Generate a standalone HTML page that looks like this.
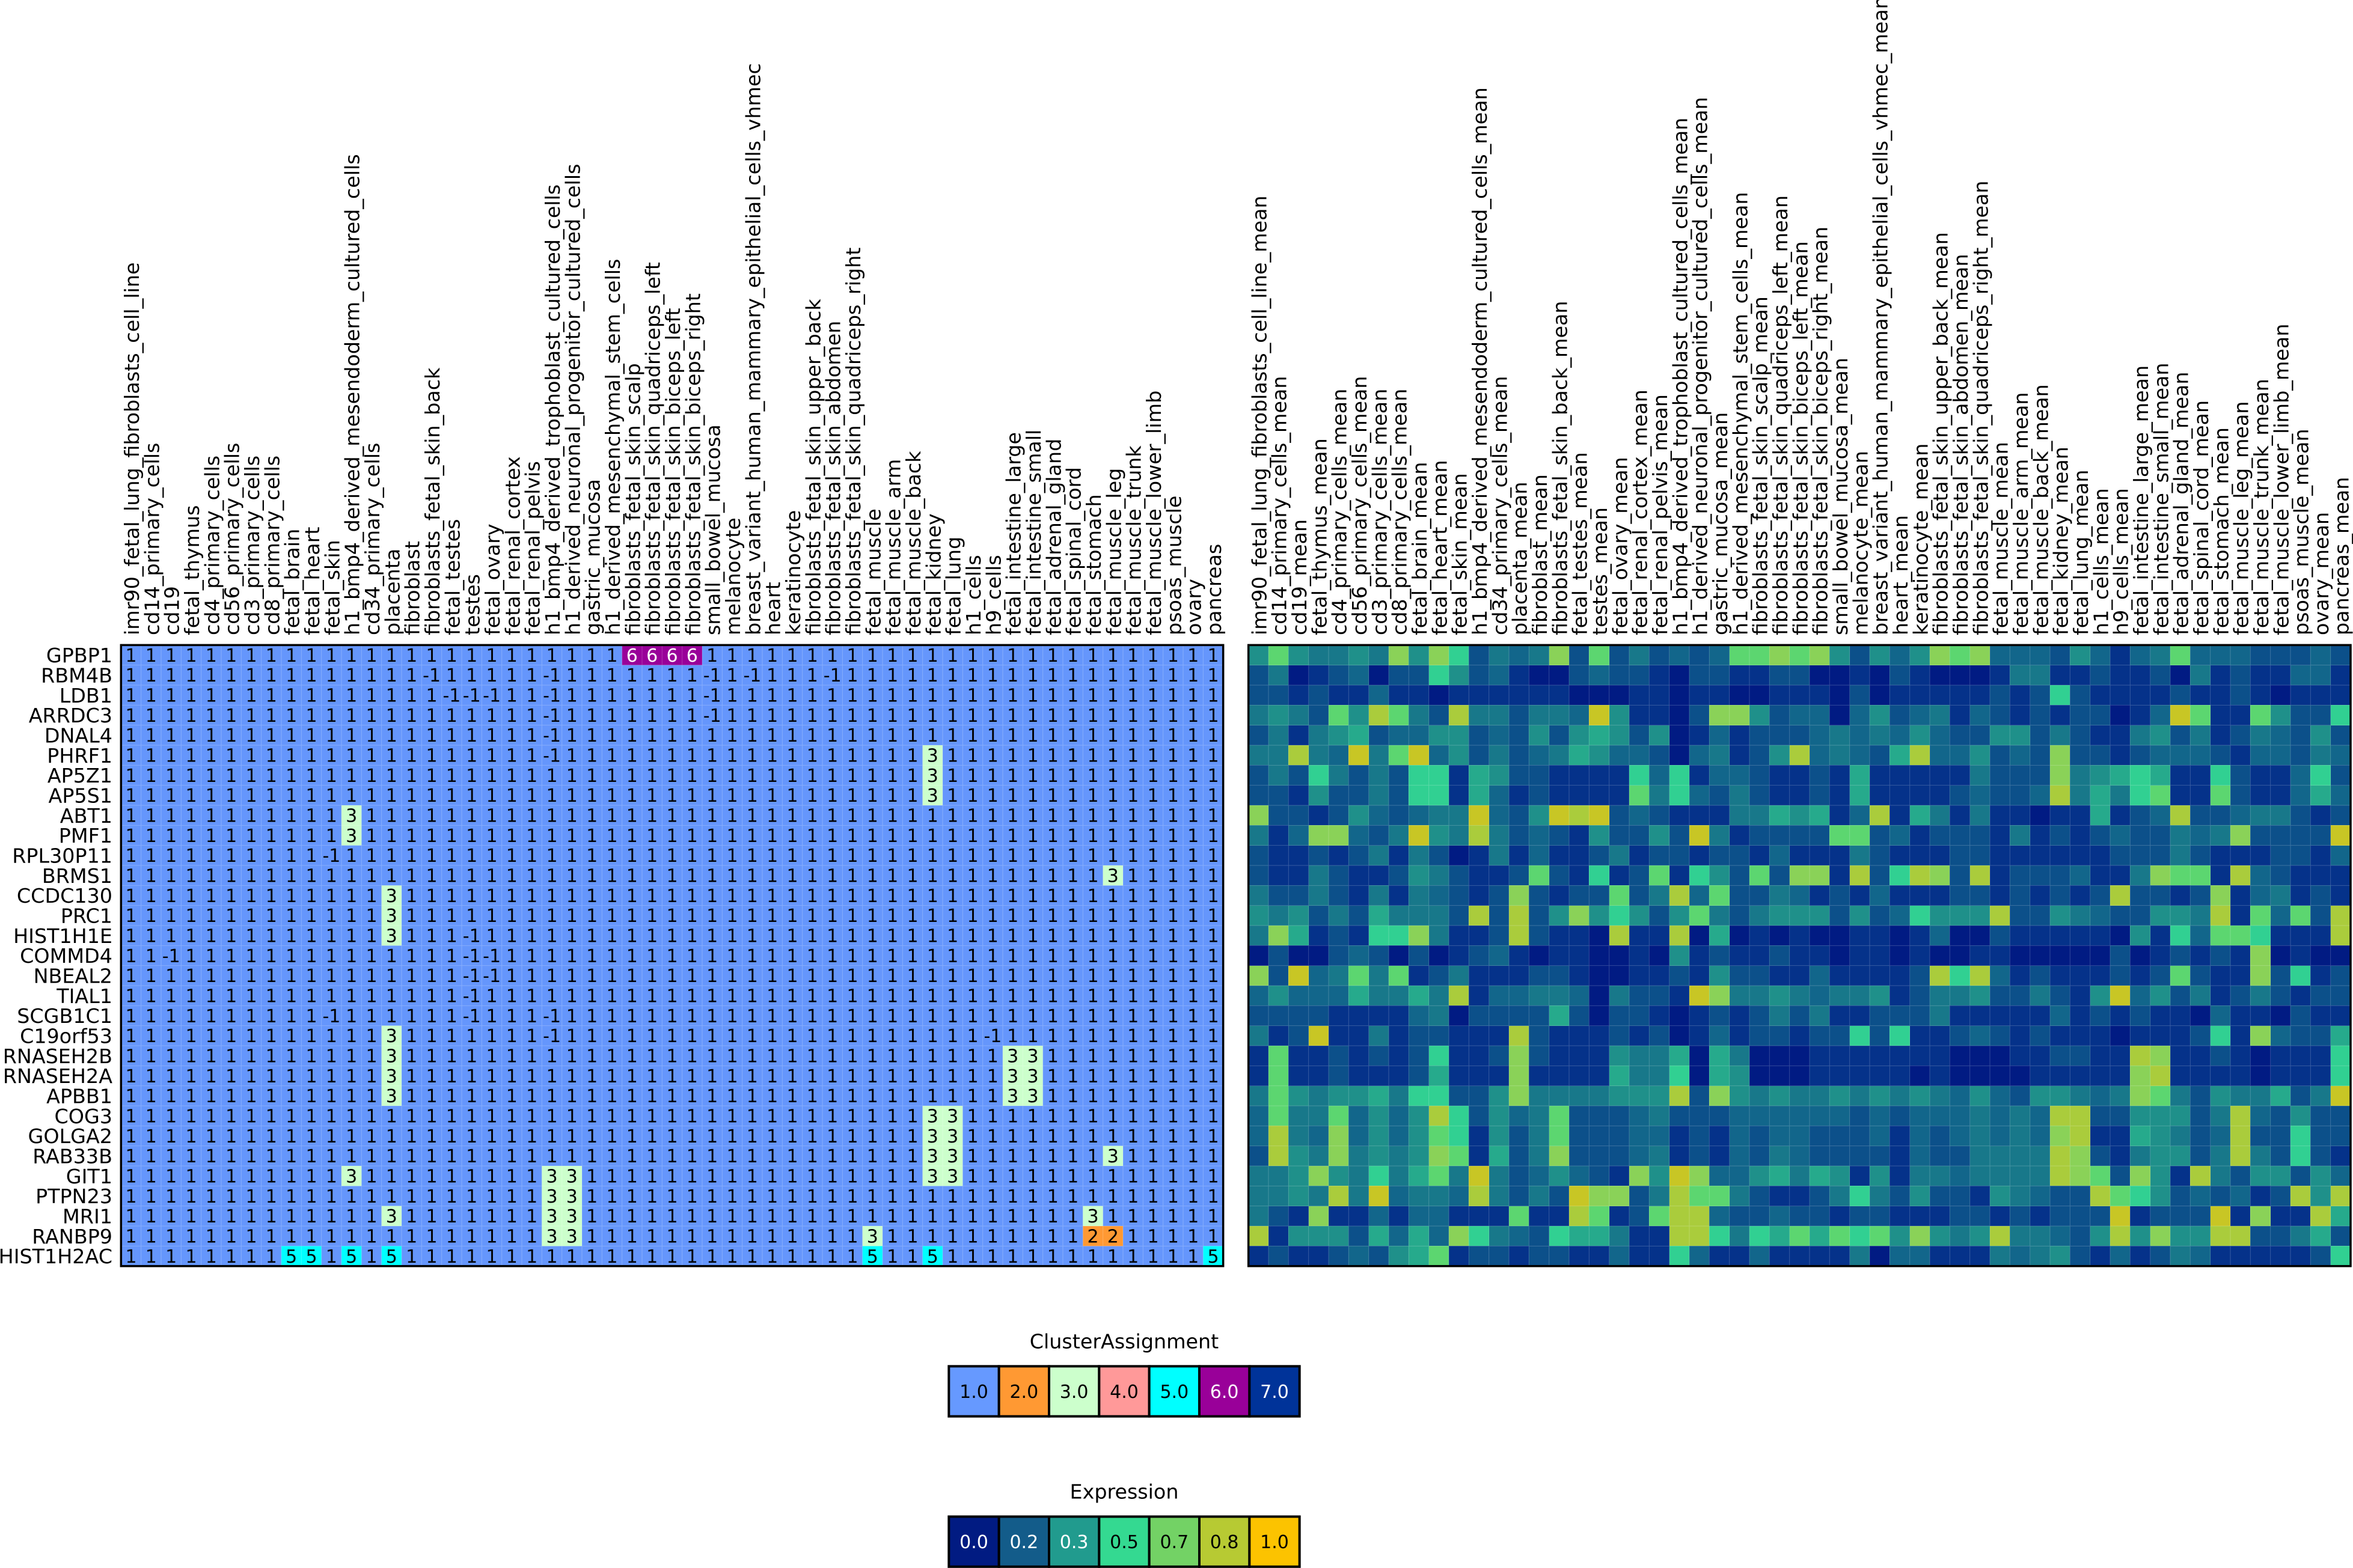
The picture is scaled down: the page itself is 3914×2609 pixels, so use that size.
<!DOCTYPE html>
<html><head><meta charset="utf-8"><style>
html,body{margin:0;padding:0;background:#fff;width:3914px;height:2609px;overflow:hidden}
#R{position:absolute;left:2076.667px;top:1073.333px;width:1833.333px;height:1033.333px;display:grid;grid-template-columns:repeat(55,1fr);grid-template-rows:repeat(31,1fr)}
#R>*{display:block;min-width:0}
#R>a{background:#011b83}#R>b{background:#05328a}#R>c{background:#0c508a}#R>d{background:#12668b}#R>e{background:#18788a}#R>f{background:#1f908a}#R>g{background:#26aa8c}#R>h{background:#31d092}#R>i{background:#5cd670}#R>j{background:#8ad258}#R>k{background:#aacc3c}#R>l{background:#c8c625}
svg{position:absolute;left:0;top:0}
</style></head><body>
<div id="R">
<f></f><i></i><f></f><e></e><e></e><f></f><e></e><j></j><f></f><j></j><h></h><c></c><e></e><d></d><e></e><j></j><c></c><i></i><c></c><e></e><c></c><d></d><c></c><d></d><i></i><i></i><j></j><i></i><j></j><f></f><c></c><f></f><d></d><f></f><j></j><i></i><j></j><d></d><d></d><d></d><c></c><f></f><d></d><b></b><d></d><e></e><i></i><d></d><d></d><d></d><c></c><c></c><c></c><d></d><c></c>
<c></c><e></e><a></a><b></b><c></c><d></d><a></a><c></c><c></c><h></h><f></f><c></c><d></d><b></b><a></a><a></a><c></c><d></d><c></c><c></c><b></b><a></a><c></c><c></c><b></b><b></b><c></c><c></c><a></a><a></a><b></b><a></a><c></c><b></b><a></a><a></a><a></a><b></b><e></e><e></e><b></b><b></b><c></c><b></b><b></b><c></c><a></a><e></e><b></b><c></c><b></b><b></b><d></d><d></d><b></b>
<c></c><c></c><b></b><c></c><b></b><b></b><d></d><b></b><b></b><a></a><b></b><b></b><b></b><b></b><b></b><b></b><a></a><a></a><a></a><b></b><b></b><a></a><b></b><b></b><a></a><a></a><b></b><b></b><b></b><a></a><c></c><a></a><b></b><b></b><b></b><b></b><b></b><c></c><b></b><c></c><h></h><c></c><b></b><b></b><b></b><b></b><c></c><b></b><b></b><c></c><b></b><a></a><b></b><b></b><b></b>
<e></e><f></f><e></e><c></c><i></i><f></f><k></k><i></i><e></e><c></c><k></k><e></e><e></e><c></c><e></e><e></e><d></d><l></l><f></f><b></b><b></b><a></a><c></c><j></j><j></j><f></f><c></c><d></d><d></d><a></a><d></d><f></f><c></c><d></d><e></e><b></b><d></d><c></c><b></b><c></c><b></b><c></c><c></c><a></a><b></b><d></d><l></l><i></i><b></b><b></b><i></i><f></f><c></c><c></c><h></h>
<c></c><e></e><b></b><e></e><f></f><g></g><c></c><d></d><d></d><f></f><f></f><c></c><d></d><c></c><f></f><c></c><f></f><g></g><f></f><c></c><f></f><a></a><b></b><d></d><b></b><c></c><c></c><c></c><d></d><e></e><d></d><e></e><d></d><f></f><d></d><c></c><c></c><f></f><f></f><c></c><e></e><c></c><b></b><b></b><e></e><f></f><c></c><e></e><b></b><c></c><e></e><d></d><c></c><f></f><c></c>
<e></e><e></e><k></k><e></e><d></d><l></l><e></e><i></i><l></l><d></d><f></f><c></c><e></e><c></c><d></d><e></e><g></g><f></f><d></d><d></d><c></c><a></a><d></d><e></e><b></b><c></c><f></f><k></k><d></d><e></e><d></d><c></c><g></g><k></k><d></d><d></d><f></f><c></c><d></d><c></c><j></j><c></c><c></c><b></b><c></c><d></d><d></d><d></d><c></c><b></b><d></d><d></d><c></c><e></e><d></d>
<c></c><e></e><c></c><h></h><e></e><c></c><e></e><c></c><h></h><h></h><b></b><g></g><f></f><c></c><c></c><b></b><b></b><b></b><b></b><h></h><d></d><h></h><b></b><d></d><d></d><c></c><b></b><b></b><c></c><b></b><g></g><b></b><b></b><b></b><b></b><b></b><e></e><c></c><c></c><c></c><j></j><e></e><f></f><g></g><h></h><g></g><b></b><b></b><h></h><c></c><b></b><b></b><d></d><h></h><c></c>
<c></c><c></c><b></b><f></f><c></c><c></c><e></e><c></c><h></h><h></h><b></b><g></g><d></d><b></b><c></c><b></b><b></b><b></b><b></b><i></i><e></e><h></h><d></d><c></c><e></e><c></c><b></b><b></b><c></c><b></b><g></g><b></b><b></b><b></b><b></b><c></c><d></d><c></c><c></c><d></d><k></k><e></e><g></g><e></e><h></h><i></i><b></b><b></b><i></i><c></c><b></b><b></b><d></d><g></g><d></d>
<j></j><c></c><c></c><b></b><c></c><f></f><d></d><c></c><d></d><e></e><e></e><l></l><d></d><c></c><f></f><l></l><k></k><l></l><c></c><d></d><c></c><b></b><b></b><b></b><e></e><e></e><g></g><f></f><g></g><b></b><d></d><k></k><b></b><g></g><e></e><b></b><e></e><b></b><b></b><a></a><b></b><b></b><g></g><b></b><c></c><d></d><k></k><c></c><c></c><d></d><e></e><e></e><c></c><b></b><c></c>
<e></e><b></b><d></d><j></j><j></j><d></d><c></c><e></e><l></l><f></f><e></e><k></k><e></e><c></c><d></d><c></c><b></b><f></f><c></c><c></c><f></f><c></c><l></l><e></e><b></b><c></c><c></c><c></c><c></c><i></i><i></i><c></c><d></d><b></b><c></c><c></c><c></c><b></b><e></e><b></b><c></c><b></b><c></c><d></d><c></c><c></c><e></e><d></d><e></e><j></j><c></c><c></c><c></c><c></c><l></l>
<c></c><b></b><b></b><c></c><b></b><c></c><e></e><b></b><e></e><c></c><a></a><b></b><e></e><b></b><d></d><b></b><b></b><c></c><e></e><b></b><c></c><c></c><b></b><c></c><c></c><b></b><d></d><b></b><b></b><b></b><e></e><c></c><b></b><b></b><b></b><c></c><c></c><b></b><b></b><b></b><b></b><b></b><b></b><c></c><c></c><c></c><e></e><c></c><b></b><b></b><b></b><c></c><c></c><b></b><d></d>
<c></c><b></b><b></b><e></e><c></c><b></b><b></b><c></c><f></f><e></e><c></c><b></b><b></b><c></c><i></i><c></c><b></b><h></h><b></b><c></c><i></i><b></b><h></h><f></f><c></c><i></i><c></c><j></j><j></j><b></b><k></k><c></c><h></h><k></k><j></j><c></c><k></k><b></b><c></c><c></c><c></c><d></d><b></b><b></b><e></e><j></j><i></i><i></i><b></b><k></k><d></d><c></c><b></b><b></b><b></b>
<e></e><c></c><c></c><e></e><c></c><b></b><e></e><b></b><e></e><d></d><c></c><b></b><c></c><j></j><c></c><b></b><c></c><c></c><i></i><c></c><e></e><k></k><d></d><i></i><c></c><c></c><e></e><d></d><b></b><c></c><b></b><d></d><b></b><b></b><b></b><c></c><c></c><b></b><c></c><b></b><c></c><b></b><c></c><k></k><c></c><c></c><b></b><c></c><j></j><b></b><d></d><e></e><b></b><c></c><b></b>
<f></f><e></e><f></f><c></c><e></e><c></c><g></g><e></e><e></e><e></e><c></c><k></k><c></c><k></k><c></c><f></f><j></j><f></f><h></h><f></f><c></c><f></f><i></i><e></e><c></c><e></e><f></f><f></f><f></f><c></c><f></f><c></c><d></d><h></h><f></f><f></f><f></f><k></k><c></c><c></c><f></f><e></e><d></d><c></c><c></c><f></f><f></f><e></e><k></k><b></b><i></i><d></d><i></i><c></c><k></k>
<e></e><j></j><g></g><b></b><c></c><b></b><h></h><h></h><j></j><e></e><b></b><b></b><c></c><k></k><c></c><b></b><b></b><a></a><k></k><b></b><b></b><k></k><a></a><g></g><a></a><b></b><a></a><b></b><a></a><a></a><b></b><b></b><a></a><b></b><d></d><a></a><a></a><c></c><b></b><b></b><b></b><b></b><b></b><a></a><f></f><b></b><h></h><d></d><i></i><i></i><h></h><b></b><b></b><b></b><k></k>
<a></a><c></c><a></a><a></a><c></c><d></d><c></c><a></a><c></c><a></a><b></b><c></c><d></d><b></b><a></a><b></b><b></b><a></a><a></a><b></b><a></a><f></f><b></b><c></c><b></b><b></b><c></c><b></b><b></b><a></a><b></b><b></b><a></a><b></b><a></a><a></a><b></b><b></b><a></a><a></a><a></a><a></a><a></a><c></c><a></a><b></b><c></c><b></b><c></c><b></b><j></j><a></a><b></b><a></a><a></a>
<j></j><c></c><l></l><d></d><e></e><i></i><e></e><i></i><b></b><c></c><e></e><b></b><b></b><b></b><c></c><c></c><b></b><a></a><a></a><b></b><b></b><c></c><b></b><f></f><c></c><c></c><b></b><b></b><d></d><b></b><b></b><b></b><b></b><c></c><k></k><h></h><k></k><d></d><b></b><c></c><b></b><b></b><b></b><c></c><b></b><c></c><i></i><c></c><b></b><b></b><j></j><c></c><h></h><b></b><c></c>
<d></d><f></f><d></d><d></d><d></d><g></g><e></e><e></e><g></g><e></e><k></k><b></b><d></d><d></d><e></e><e></e><d></d><a></a><e></e><c></c><c></c><b></b><l></l><j></j><e></e><e></e><f></f><e></e><d></d><e></e><e></e><f></f><b></b><c></c><e></e><e></e><f></f><c></c><c></c><e></e><c></c><b></b><f></f><l></l><d></d><f></f><c></c><e></e><b></b><c></c><e></e><c></c><b></b><c></c><c></c>
<c></c><c></c><c></c><c></c><b></b><b></b><b></b><b></b><d></d><e></e><a></a><c></c><c></c><c></c><c></c><g></g><c></c><a></a><c></c><c></c><b></b><a></a><b></b><c></c><b></b><c></c><e></e><c></c><e></e><b></b><b></b><c></c><c></c><c></c><e></e><b></b><b></b><b></b><b></b><b></b><d></d><b></b><c></c><b></b><c></c><b></b><b></b><a></a><d></d><b></b><b></b><a></a><c></c><b></b><b></b>
<e></e><b></b><c></c><l></l><b></b><b></b><e></e><b></b><c></c><c></c><b></b><b></b><b></b><k></k><c></c><b></b><b></b><b></b><c></c><b></b><c></c><a></a><b></b><d></d><b></b><c></c><c></c><b></b><c></c><c></c><h></h><c></c><h></h><b></b><b></b><c></c><d></d><c></c><b></b><c></c><b></b><b></b><b></b><a></a><b></b><b></b><b></b><c></c><h></h><b></b><j></j><d></d><c></c><c></c><g></g>
<b></b><i></i><b></b><b></b><c></c><b></b><c></c><b></b><c></c><h></h><b></b><b></b><c></c><j></j><c></c><b></b><b></b><b></b><f></f><e></e><e></e><g></g><a></a><g></g><e></e><a></a><a></a><a></a><b></b><b></b><b></b><b></b><b></b><b></b><b></b><a></a><a></a><a></a><b></b><b></b><c></c><c></c><b></b><b></b><k></k><j></j><b></b><b></b><c></c><b></b><a></a><b></b><b></b><b></b><h></h>
<b></b><i></i><b></b><b></b><c></c><b></b><b></b><b></b><c></c><g></g><b></b><b></b><b></b><j></j><b></b><b></b><b></b><b></b><g></g><e></e><e></e><h></h><a></a><g></g><f></f><a></a><a></a><a></a><b></b><b></b><b></b><b></b><b></b><a></a><b></b><a></a><a></a><a></a><a></a><b></b><b></b><b></b><b></b><b></b><j></j><k></k><b></b><b></b><b></b><b></b><a></a><b></b><b></b><b></b><h></h>
<e></e><i></i><f></f><e></e><f></f><f></f><g></g><e></e><h></h><h></h><c></c><c></c><f></f><j></j><e></e><e></e><e></e><e></e><f></f><f></f><f></f><k></k><c></c><j></j><f></f><e></e><f></f><e></e><e></e><f></f><e></e><f></f><e></e><f></f><e></e><d></d><f></f><d></d><c></c><f></f><f></f><e></e><d></d><e></e><j></j><i></i><e></e><c></c><f></f><e></e><e></e><g></g><c></c><e></e><l></l>
<d></d><i></i><e></e><e></e><i></i><d></d><f></f><d></d><f></f><k></k><h></h><c></c><f></f><d></d><e></e><i></i><c></c><c></c><c></c><d></d><e></e><c></c><c></c><c></c><d></d><d></d><d></d><d></d><d></d><d></d><c></c><d></d><c></c><d></d><d></d><d></d><e></e><d></d><e></e><d></d><k></k><k></k><c></c><c></c><f></f><f></f><f></f><c></c><e></e><k></k><d></d><c></c><f></f><c></c><c></c>
<d></d><k></k><e></e><d></d><j></j><d></d><f></f><d></d><f></f><i></i><h></h><b></b><f></f><c></c><e></e><i></i><c></c><c></c><c></c><d></d><d></d><b></b><c></c><b></b><d></d><c></c><d></d><d></d><c></c><c></c><c></c><d></d><b></b><d></d><c></c><d></d><e></e><d></d><e></e><d></d><j></j><k></k><b></b><b></b><g></g><f></f><e></e><c></c><d></d><k></k><c></c><c></c><h></h><c></c><c></c>
<c></c><k></k><f></f><e></e><j></j><e></e><f></f><e></e><f></f><j></j><i></i><b></b><g></g><c></c><e></e><j></j><c></c><c></c><c></c><d></d><e></e><b></b><c></c><b></b><d></d><c></c><e></e><d></d><c></c><c></c><c></c><c></c><b></b><d></d><c></c><c></c><e></e><e></e><e></e><e></e><k></k><j></j><c></c><b></b><e></e><f></f><f></f><c></c><e></e><k></k><e></e><c></c><h></h><c></c><b></b>
<e></e><e></e><f></f><j></j><f></f><e></e><h></h><e></e><g></g><i></i><e></e><l></l><e></e><c></c><d></d><f></f><d></d><c></c><b></b><j></j><f></f><l></l><j></j><d></d><d></d><f></f><g></g><e></e><g></g><f></f><b></b><f></f><b></b><e></e><e></e><d></d><e></e><e></e><e></e><e></e><k></k><j></j><i></i><c></c><j></j><f></f><b></b><k></k><e></e><c></c><f></f><f></f><c></c><f></f><d></d>
<e></e><e></e><f></f><e></e><k></k><e></e><l></l><d></d><e></e><e></e><d></d><k></k><e></e><c></c><e></e><c></c><l></l><j></j><j></j><c></c><e></e><k></k><i></i><i></i><e></e><c></c><b></b><b></b><c></c><e></e><h></h><e></e><c></c><f></f><c></c><c></c><b></b><f></f><e></e><d></d><c></c><c></c><k></k><i></i><h></h><f></f><c></c><d></d><c></c><d></d><b></b><c></c><k></k><f></f><k></k>
<e></e><c></c><b></b><j></j><b></b><b></b><d></d><b></b><d></d><d></d><b></b><b></b><b></b><i></i><b></b><b></b><k></k><i></i><b></b><c></c><i></i><k></k><k></k><d></d><c></c><c></c><d></d><c></c><c></c><b></b><c></c><c></c><b></b><b></b><b></b><c></c><c></c><b></b><c></c><b></b><c></c><c></c><c></c><l></l><b></b><c></c><c></c><c></c><l></l><b></b><j></j><b></b><b></b><k></k><g></g>
<k></k><b></b><f></f><f></f><f></f><c></c><g></g><d></d><g></g><d></d><j></j><h></h><e></e><d></d><c></c><h></h><g></g><g></g><e></e><b></b><b></b><k></k><k></k><h></h><e></e><h></h><g></g><i></i><g></g><i></i><h></h><i></i><f></f><j></j><f></f><e></e><f></f><k></k><e></e><e></e><d></d><c></c><f></f><k></k><f></f><j></j><f></f><f></f><k></k><k></k><c></c><c></c><e></e><g></g><c></c>
<b></b><c></c><b></b><b></b><c></c><d></d><c></c><f></f><g></g><i></i><b></b><c></c><c></c><b></b><c></c><c></c><b></b><b></b><d></d><b></b><b></b><h></h><d></d><b></b><b></b><d></d><b></b><b></b><b></b><b></b><e></e><a></a><d></d><d></d><b></b><b></b><b></b><e></e><d></d><e></e><f></f><c></c><b></b><d></d><b></b><c></c><e></e><d></d><b></b><b></b><b></b><b></b><b></b><c></c><h></h>
</div>
<svg width="3914" height="2609" viewBox="0 0 3914 2609" font-family="'DejaVu Sans','Liberation Sans',sans-serif">
<rect x="201.333" y="1073.333" width="1833.333" height="1033.333" fill="#6596fc"/>
<g transform="translate(201.333 1073.333) scale(33.33333)">
<rect x="25" y="0" width="4" height="1" fill="#990099"/>
<g fill="#ccffcc">
<rect x="40" y="5" width="1" height="3"/><rect x="11" y="8" width="1" height="2"/><rect x="49" y="11" width="1" height="1"/><rect x="13" y="12" width="1" height="3"/><rect x="13" y="19" width="1" height="4"/><rect x="44" y="20" width="2" height="3"/><rect x="40" y="23" width="2" height="4"/><rect x="49" y="25" width="1" height="1"/><rect x="11" y="26" width="1" height="1"/><rect x="21" y="26" width="2" height="4"/><rect x="13" y="28" width="1" height="1"/><rect x="48" y="28" width="1" height="1"/><rect x="37" y="29" width="1" height="1"/>
</g>
<rect x="48" y="29" width="2" height="1" fill="#ff9933"/>
<g fill="#00ffff"><rect x="8" y="30" width="2" height="1"/><rect x="11" y="30" width="1" height="1"/><rect x="13" y="30" width="1" height="1"/><rect x="37" y="30" width="1" height="1"/><rect x="40" y="30" width="1" height="1"/><rect x="54" y="30" width="1" height="1"/></g>
<path d="M0 1H55M0 2H55M0 3H55M0 4H55M0 5H55M0 6H55M0 7H55M0 8H55M0 9H55M0 10H55M0 11H55M0 12H55M0 13H55M0 14H55M0 15H55M0 16H55M0 17H55M0 18H55M0 19H55M0 20H55M0 21H55M0 22H55M0 23H55M0 24H55M0 25H55M0 26H55M0 27H55M0 28H55M0 29H55M0 30H55M1 0V31M2 0V31M3 0V31M4 0V31M5 0V31M6 0V31M7 0V31M8 0V31M9 0V31M10 0V31M11 0V31M12 0V31M13 0V31M14 0V31M15 0V31M16 0V31M17 0V31M18 0V31M19 0V31M20 0V31M21 0V31M22 0V31M23 0V31M24 0V31M25 0V31M26 0V31M27 0V31M28 0V31M29 0V31M30 0V31M31 0V31M32 0V31M33 0V31M34 0V31M35 0V31M36 0V31M37 0V31M38 0V31M39 0V31M40 0V31M41 0V31M42 0V31M43 0V31M44 0V31M45 0V31M46 0V31M47 0V31M48 0V31M49 0V31M50 0V31M51 0V31M52 0V31M53 0V31M54 0V31" stroke="#ffffff" stroke-opacity="0.22" stroke-width="1" vector-effect="non-scaling-stroke" fill="none"/>
</g>
<g transform="translate(2076.667 1073.333) scale(33.33333)">
<path d="M0 1H55M0 2H55M0 3H55M0 4H55M0 5H55M0 6H55M0 7H55M0 8H55M0 9H55M0 10H55M0 11H55M0 12H55M0 13H55M0 14H55M0 15H55M0 16H55M0 17H55M0 18H55M0 19H55M0 20H55M0 21H55M0 22H55M0 23H55M0 24H55M0 25H55M0 26H55M0 27H55M0 28H55M0 29H55M0 30H55M1 0V31M2 0V31M3 0V31M4 0V31M5 0V31M6 0V31M7 0V31M8 0V31M9 0V31M10 0V31M11 0V31M12 0V31M13 0V31M14 0V31M15 0V31M16 0V31M17 0V31M18 0V31M19 0V31M20 0V31M21 0V31M22 0V31M23 0V31M24 0V31M25 0V31M26 0V31M27 0V31M28 0V31M29 0V31M30 0V31M31 0V31M32 0V31M33 0V31M34 0V31M35 0V31M36 0V31M37 0V31M38 0V31M39 0V31M40 0V31M41 0V31M42 0V31M43 0V31M44 0V31M45 0V31M46 0V31M47 0V31M48 0V31M49 0V31M50 0V31M51 0V31M52 0V31M53 0V31M54 0V31" stroke="#ffffff" stroke-opacity="0.2" stroke-width="1" vector-effect="non-scaling-stroke" fill="none"/>
</g>
<rect x="201.333" y="1073.333" width="1833.333" height="1033.333" fill="none" stroke="#000" stroke-width="3.5"/>
<rect x="2076.667" y="1073.333" width="1833.333" height="1033.333" fill="none" stroke="#000" stroke-width="3.5"/>

<g transform="translate(208.46 1100.9) scale(.333333)" font-size="90" fill="#000">
<text y="0" x="0 100 200 300 400 500 600 700 800 900 1000 1100 1200 1300 1400 1500 1600 1700 1800 1900 2000 2100 2200 2300 2400 2500 2600 2700 2800 2900 3000 3100 3200 3300 3400 3500 3600 3700 3800 3900 4000 4100 4200 4300 4400 4500 4600 4700 4800 4900 5000 5100 5200 5300 5400">1111111111111111111111111&#160;&#160;&#160;&#160;11111111111111111111111111</text>
<text y="100" x="0 100 200 300 400 500 600 700 800 900 1000 1100 1200 1300 1400 1500 1600 1700 1800 1900 2000 2100 2200 2300 2400 2500 2600 2700 2800 2900 3000 3100 3200 3300 3400 3500 3600 3700 3800 3900 4000 4100 4200 4300 4400 4500 4600 4700 4800 4900 5000 5100 5200 5300 5400">111111111111111&#160;11111&#160;1111111&#160;1&#160;111&#160;1111111111111111111</text>
<text y="200" x="0 100 200 300 400 500 600 700 800 900 1000 1100 1200 1300 1400 1500 1600 1700 1800 1900 2000 2100 2200 2300 2400 2500 2600 2700 2800 2900 3000 3100 3200 3300 3400 3500 3600 3700 3800 3900 4000 4100 4200 4300 4400 4500 4600 4700 4800 4900 5000 5100 5200 5300 5400">1111111111111111&#160;&#160;&#160;11&#160;1111111&#160;1111111111111111111111111</text>
<text y="300" x="0 100 200 300 400 500 600 700 800 900 1000 1100 1200 1300 1400 1500 1600 1700 1800 1900 2000 2100 2200 2300 2400 2500 2600 2700 2800 2900 3000 3100 3200 3300 3400 3500 3600 3700 3800 3900 4000 4100 4200 4300 4400 4500 4600 4700 4800 4900 5000 5100 5200 5300 5400">111111111111111111111&#160;1111111&#160;1111111111111111111111111</text>
<text y="400" x="0 100 200 300 400 500 600 700 800 900 1000 1100 1200 1300 1400 1500 1600 1700 1800 1900 2000 2100 2200 2300 2400 2500 2600 2700 2800 2900 3000 3100 3200 3300 3400 3500 3600 3700 3800 3900 4000 4100 4200 4300 4400 4500 4600 4700 4800 4900 5000 5100 5200 5300 5400">111111111111111111111&#160;111111111111111111111111111111111</text>
<text y="500" x="0 100 200 300 400 500 600 700 800 900 1000 1100 1200 1300 1400 1500 1600 1700 1800 1900 2000 2100 2200 2300 2400 2500 2600 2700 2800 2900 3000 3100 3200 3300 3400 3500 3600 3700 3800 3900 4000 4100 4200 4300 4400 4500 4600 4700 4800 4900 5000 5100 5200 5300 5400">111111111111111111111&#160;111111111111111111&#160;11111111111111</text>
<text y="600" x="0 100 200 300 400 500 600 700 800 900 1000 1100 1200 1300 1400 1500 1600 1700 1800 1900 2000 2100 2200 2300 2400 2500 2600 2700 2800 2900 3000 3100 3200 3300 3400 3500 3600 3700 3800 3900 4000 4100 4200 4300 4400 4500 4600 4700 4800 4900 5000 5100 5200 5300 5400">1111111111111111111111111111111111111111&#160;11111111111111</text>
<text y="700" x="0 100 200 300 400 500 600 700 800 900 1000 1100 1200 1300 1400 1500 1600 1700 1800 1900 2000 2100 2200 2300 2400 2500 2600 2700 2800 2900 3000 3100 3200 3300 3400 3500 3600 3700 3800 3900 4000 4100 4200 4300 4400 4500 4600 4700 4800 4900 5000 5100 5200 5300 5400">1111111111111111111111111111111111111111&#160;11111111111111</text>
<text y="800" x="0 100 200 300 400 500 600 700 800 900 1000 1100 1200 1300 1400 1500 1600 1700 1800 1900 2000 2100 2200 2300 2400 2500 2600 2700 2800 2900 3000 3100 3200 3300 3400 3500 3600 3700 3800 3900 4000 4100 4200 4300 4400 4500 4600 4700 4800 4900 5000 5100 5200 5300 5400">11111111111&#160;1111111111111111111111111111111111111111111</text>
<text y="900" x="0 100 200 300 400 500 600 700 800 900 1000 1100 1200 1300 1400 1500 1600 1700 1800 1900 2000 2100 2200 2300 2400 2500 2600 2700 2800 2900 3000 3100 3200 3300 3400 3500 3600 3700 3800 3900 4000 4100 4200 4300 4400 4500 4600 4700 4800 4900 5000 5100 5200 5300 5400">11111111111&#160;1111111111111111111111111111111111111111111</text>
<text y="1000" x="0 100 200 300 400 500 600 700 800 900 1000 1100 1200 1300 1400 1500 1600 1700 1800 1900 2000 2100 2200 2300 2400 2500 2600 2700 2800 2900 3000 3100 3200 3300 3400 3500 3600 3700 3800 3900 4000 4100 4200 4300 4400 4500 4600 4700 4800 4900 5000 5100 5200 5300 5400">1111111111&#160;11111111111111111111111111111111111111111111</text>
<text y="1100" x="0 100 200 300 400 500 600 700 800 900 1000 1100 1200 1300 1400 1500 1600 1700 1800 1900 2000 2100 2200 2300 2400 2500 2600 2700 2800 2900 3000 3100 3200 3300 3400 3500 3600 3700 3800 3900 4000 4100 4200 4300 4400 4500 4600 4700 4800 4900 5000 5100 5200 5300 5400">1111111111111111111111111111111111111111111111111&#160;11111</text>
<text y="1200" x="0 100 200 300 400 500 600 700 800 900 1000 1100 1200 1300 1400 1500 1600 1700 1800 1900 2000 2100 2200 2300 2400 2500 2600 2700 2800 2900 3000 3100 3200 3300 3400 3500 3600 3700 3800 3900 4000 4100 4200 4300 4400 4500 4600 4700 4800 4900 5000 5100 5200 5300 5400">1111111111111&#160;11111111111111111111111111111111111111111</text>
<text y="1300" x="0 100 200 300 400 500 600 700 800 900 1000 1100 1200 1300 1400 1500 1600 1700 1800 1900 2000 2100 2200 2300 2400 2500 2600 2700 2800 2900 3000 3100 3200 3300 3400 3500 3600 3700 3800 3900 4000 4100 4200 4300 4400 4500 4600 4700 4800 4900 5000 5100 5200 5300 5400">1111111111111&#160;11111111111111111111111111111111111111111</text>
<text y="1400" x="0 100 200 300 400 500 600 700 800 900 1000 1100 1200 1300 1400 1500 1600 1700 1800 1900 2000 2100 2200 2300 2400 2500 2600 2700 2800 2900 3000 3100 3200 3300 3400 3500 3600 3700 3800 3900 4000 4100 4200 4300 4400 4500 4600 4700 4800 4900 5000 5100 5200 5300 5400">1111111111111&#160;111&#160;1111111111111111111111111111111111111</text>
<text y="1500" x="0 100 200 300 400 500 600 700 800 900 1000 1100 1200 1300 1400 1500 1600 1700 1800 1900 2000 2100 2200 2300 2400 2500 2600 2700 2800 2900 3000 3100 3200 3300 3400 3500 3600 3700 3800 3900 4000 4100 4200 4300 4400 4500 4600 4700 4800 4900 5000 5100 5200 5300 5400">11&#160;11111111111111&#160;&#160;111111111111111111111111111111111111</text>
<text y="1600" x="0 100 200 300 400 500 600 700 800 900 1000 1100 1200 1300 1400 1500 1600 1700 1800 1900 2000 2100 2200 2300 2400 2500 2600 2700 2800 2900 3000 3100 3200 3300 3400 3500 3600 3700 3800 3900 4000 4100 4200 4300 4400 4500 4600 4700 4800 4900 5000 5100 5200 5300 5400">11111111111111111&#160;&#160;111111111111111111111111111111111111</text>
<text y="1700" x="0 100 200 300 400 500 600 700 800 900 1000 1100 1200 1300 1400 1500 1600 1700 1800 1900 2000 2100 2200 2300 2400 2500 2600 2700 2800 2900 3000 3100 3200 3300 3400 3500 3600 3700 3800 3900 4000 4100 4200 4300 4400 4500 4600 4700 4800 4900 5000 5100 5200 5300 5400">11111111111111111&#160;1111111111111111111111111111111111111</text>
<text y="1800" x="0 100 200 300 400 500 600 700 800 900 1000 1100 1200 1300 1400 1500 1600 1700 1800 1900 2000 2100 2200 2300 2400 2500 2600 2700 2800 2900 3000 3100 3200 3300 3400 3500 3600 3700 3800 3900 4000 4100 4200 4300 4400 4500 4600 4700 4800 4900 5000 5100 5200 5300 5400">1111111111&#160;111111&#160;111&#160;111111111111111111111111111111111</text>
<text y="1900" x="0 100 200 300 400 500 600 700 800 900 1000 1100 1200 1300 1400 1500 1600 1700 1800 1900 2000 2100 2200 2300 2400 2500 2600 2700 2800 2900 3000 3100 3200 3300 3400 3500 3600 3700 3800 3900 4000 4100 4200 4300 4400 4500 4600 4700 4800 4900 5000 5100 5200 5300 5400">1111111111111&#160;1111111&#160;111111111111111111111&#160;11111111111</text>
<text y="2000" x="0 100 200 300 400 500 600 700 800 900 1000 1100 1200 1300 1400 1500 1600 1700 1800 1900 2000 2100 2200 2300 2400 2500 2600 2700 2800 2900 3000 3100 3200 3300 3400 3500 3600 3700 3800 3900 4000 4100 4200 4300 4400 4500 4600 4700 4800 4900 5000 5100 5200 5300 5400">1111111111111&#160;111111111111111111111111111111&#160;&#160;111111111</text>
<text y="2100" x="0 100 200 300 400 500 600 700 800 900 1000 1100 1200 1300 1400 1500 1600 1700 1800 1900 2000 2100 2200 2300 2400 2500 2600 2700 2800 2900 3000 3100 3200 3300 3400 3500 3600 3700 3800 3900 4000 4100 4200 4300 4400 4500 4600 4700 4800 4900 5000 5100 5200 5300 5400">1111111111111&#160;111111111111111111111111111111&#160;&#160;111111111</text>
<text y="2200" x="0 100 200 300 400 500 600 700 800 900 1000 1100 1200 1300 1400 1500 1600 1700 1800 1900 2000 2100 2200 2300 2400 2500 2600 2700 2800 2900 3000 3100 3200 3300 3400 3500 3600 3700 3800 3900 4000 4100 4200 4300 4400 4500 4600 4700 4800 4900 5000 5100 5200 5300 5400">1111111111111&#160;111111111111111111111111111111&#160;&#160;111111111</text>
<text y="2300" x="0 100 200 300 400 500 600 700 800 900 1000 1100 1200 1300 1400 1500 1600 1700 1800 1900 2000 2100 2200 2300 2400 2500 2600 2700 2800 2900 3000 3100 3200 3300 3400 3500 3600 3700 3800 3900 4000 4100 4200 4300 4400 4500 4600 4700 4800 4900 5000 5100 5200 5300 5400">1111111111111111111111111111111111111111&#160;&#160;1111111111111</text>
<text y="2400" x="0 100 200 300 400 500 600 700 800 900 1000 1100 1200 1300 1400 1500 1600 1700 1800 1900 2000 2100 2200 2300 2400 2500 2600 2700 2800 2900 3000 3100 3200 3300 3400 3500 3600 3700 3800 3900 4000 4100 4200 4300 4400 4500 4600 4700 4800 4900 5000 5100 5200 5300 5400">1111111111111111111111111111111111111111&#160;&#160;1111111111111</text>
<text y="2500" x="0 100 200 300 400 500 600 700 800 900 1000 1100 1200 1300 1400 1500 1600 1700 1800 1900 2000 2100 2200 2300 2400 2500 2600 2700 2800 2900 3000 3100 3200 3300 3400 3500 3600 3700 3800 3900 4000 4100 4200 4300 4400 4500 4600 4700 4800 4900 5000 5100 5200 5300 5400">1111111111111111111111111111111111111111&#160;&#160;1111111&#160;11111</text>
<text y="2600" x="0 100 200 300 400 500 600 700 800 900 1000 1100 1200 1300 1400 1500 1600 1700 1800 1900 2000 2100 2200 2300 2400 2500 2600 2700 2800 2900 3000 3100 3200 3300 3400 3500 3600 3700 3800 3900 4000 4100 4200 4300 4400 4500 4600 4700 4800 4900 5000 5100 5200 5300 5400">11111111111&#160;111111111&#160;&#160;11111111111111111&#160;&#160;1111111111111</text>
<text y="2700" x="0 100 200 300 400 500 600 700 800 900 1000 1100 1200 1300 1400 1500 1600 1700 1800 1900 2000 2100 2200 2300 2400 2500 2600 2700 2800 2900 3000 3100 3200 3300 3400 3500 3600 3700 3800 3900 4000 4100 4200 4300 4400 4500 4600 4700 4800 4900 5000 5100 5200 5300 5400">111111111111111111111&#160;&#160;11111111111111111111111111111111</text>
<text y="2800" x="0 100 200 300 400 500 600 700 800 900 1000 1100 1200 1300 1400 1500 1600 1700 1800 1900 2000 2100 2200 2300 2400 2500 2600 2700 2800 2900 3000 3100 3200 3300 3400 3500 3600 3700 3800 3900 4000 4100 4200 4300 4400 4500 4600 4700 4800 4900 5000 5100 5200 5300 5400">1111111111111&#160;1111111&#160;&#160;1111111111111111111111111&#160;111111</text>
<text y="2900" x="0 100 200 300 400 500 600 700 800 900 1000 1100 1200 1300 1400 1500 1600 1700 1800 1900 2000 2100 2200 2300 2400 2500 2600 2700 2800 2900 3000 3100 3200 3300 3400 3500 3600 3700 3800 3900 4000 4100 4200 4300 4400 4500 4600 4700 4800 4900 5000 5100 5200 5300 5400">111111111111111111111&#160;&#160;11111111111111&#160;1111111111&#160;&#160;11111</text>
<text y="3000" x="0 100 200 300 400 500 600 700 800 900 1000 1100 1200 1300 1400 1500 1600 1700 1800 1900 2000 2100 2200 2300 2400 2500 2600 2700 2800 2900 3000 3100 3200 3300 3400 3500 3600 3700 3800 3900 4000 4100 4200 4300 4400 4500 4600 4700 4800 4900 5000 5100 5200 5300 5400">11111111&#160;&#160;1&#160;1&#160;11111111111111111111111&#160;11&#160;1111111111111&#160;</text>
<text x="4000 4000 4000 1100 1100 4900 1300 1300 1300 1300 1300 4400 4500 1300 4400 4500 1300 4400 4500 4000 4100 4000 4100 4000 4100 4900 1100 2100 2200 4000 4100 2100 2200 1300 2100 2200 4800 2100 2200 3700" y="500 600 700 800 900 1100 1200 1300 1400 1900 2000 2000 2000 2100 2100 2100 2200 2200 2200 2300 2300 2400 2400 2500 2500 2500 2600 2600 2600 2600 2600 2700 2700 2800 2800 2800 2800 2900 2900 2900">3333333333333333333333333333333333333333</text>
<text x="4800 4900" y="2900 2900">22</text>
<text x="800 900 1100 1300 3700 4000 5400" y="3000 3000 3000 3000 3000 3000 3000">5555555</text>
<text x="2500 2600 2700 2800" y="0 0 0 0" fill="#fff">6666</text>
<text y="100" x="1484 1516.5 2084 2116.5 2884 2916.5 3084 3116.5 3484 3516.5">-1-1-1-1-1</text>
<text y="200" x="1584 1616.5 1684 1716.5 1784 1816.5 2084 2116.5 2884 2916.5">-1-1-1-1-1</text>
<text y="300" x="2084 2116.5 2884 2916.5">-1-1</text>
<text y="400" x="2084 2116.5">-1</text>
<text y="500" x="2084 2116.5">-1</text>
<text y="1000" x="984 1016.5">-1</text>
<text y="1400" x="1684 1716.5">-1</text>
<text y="1500" x="184 216.5 1684 1716.5 1784 1816.5">-1-1-1</text>
<text y="1600" x="1684 1716.5 1784 1816.5">-1-1</text>
<text y="1700" x="1684 1716.5">-1</text>
<text y="1800" x="984 1016.5 1684 1716.5 2084 2116.5">-1-1-1</text>
<text y="1900" x="2084 2116.5 4284 4316.5">-1-1</text>
</g>

<g transform="translate(187 1102.1) scale(.333333)" font-size="100" text-anchor="end" fill="#000">
<text y="0">GPBP1</text><text y="100">RBM4B</text><text y="200">LDB1</text><text y="300">ARRDC3</text><text y="400">DNAL4</text><text y="500">PHRF1</text><text y="600">AP5Z1</text><text y="700">AP5S1</text><text y="800">ABT1</text><text y="900">PMF1</text><text y="1000">RPL30P11</text><text y="1100">BRMS1</text><text y="1200">CCDC130</text><text y="1300">PRC1</text><text y="1400">HIST1H1E</text><text y="1500">COMMD4</text><text y="1600">NBEAL2</text><text y="1700">TIAL1</text><text y="1800">SCGB1C1</text><text y="1900">C19orf53</text><text y="2000">RNASEH2B</text><text y="2100">RNASEH2A</text><text y="2200">APBB1</text><text y="2300">COG3</text><text y="2400">GOLGA2</text><text y="2500">RAB33B</text><text y="2600">GIT1</text><text y="2700">PTPN23</text><text y="2800">MRI1</text><text y="2900">RANBP9</text><text y="3000">HIST1H2AC</text>
</g>

<g transform="translate(231 1057) rotate(-90) scale(.333333)" font-size="100" fill="#000">
<text y="0">imr90_fetal_lung_fibroblasts_cell_line</text>
<text y="100">cd14_primary_cells</text>
<text y="200">cd19</text>
<text y="300">fetal_thymus</text>
<text y="400">cd4_primary_cells</text>
<text y="500">cd56_primary_cells</text>
<text y="600">cd3_primary_cells</text>
<text y="700">cd8_primary_cells</text>
<text y="800">fetal_brain</text>
<text y="900">fetal_heart</text>
<text y="1000">fetal_skin</text>
<text y="1100">h1_bmp4_derived_mesendoderm_cultured_cells</text>
<text y="1200">cd34_primary_cells</text>
<text y="1300">placenta</text>
<text y="1400">fibroblast</text>
<text y="1500">fibroblasts_fetal_skin_back</text>
<text y="1600">fetal_testes</text>
<text y="1700">testes</text>
<text y="1800">fetal_ovary</text>
<text y="1900">fetal_renal_cortex</text>
<text y="2000">fetal_renal_pelvis</text>
<text y="2100">h1_bmp4_derived_trophoblast_cultured_cells</text>
<text y="2200">h1_derived_neuronal_progenitor_cultured_cells</text>
<text y="2300">gastric_mucosa</text>
<text y="2400">h1_derived_mesenchymal_stem_cells</text>
<text y="2500">fibroblasts_fetal_skin_scalp</text>
<text y="2600">fibroblasts_fetal_skin_quadriceps_left</text>
<text y="2700">fibroblasts_fetal_skin_biceps_left</text>
<text y="2800">fibroblasts_fetal_skin_biceps_right</text>
<text y="2900">small_bowel_mucosa</text>
<text y="3000">melanocyte</text>
<text y="3100">breast_variant_human_mammary_epithelial_cells_vhmec</text>
<text y="3200">heart</text>
<text y="3300">keratinocyte</text>
<text y="3400">fibroblasts_fetal_skin_upper_back</text>
<text y="3500">fibroblasts_fetal_skin_abdomen</text>
<text y="3600">fibroblasts_fetal_skin_quadriceps_right</text>
<text y="3700">fetal_muscle</text>
<text y="3800">fetal_muscle_arm</text>
<text y="3900">fetal_muscle_back</text>
<text y="4000">fetal_kidney</text>
<text y="4100">fetal_lung</text>
<text y="4200">h1_cells</text>
<text y="4300">h9_cells</text>
<text y="4400">fetal_intestine_large</text>
<text y="4500">fetal_intestine_small</text>
<text y="4600">fetal_adrenal_gland</text>
<text y="4700">fetal_spinal_cord</text>
<text y="4800">fetal_stomach</text>
<text y="4900">fetal_muscle_leg</text>
<text y="5000">fetal_muscle_trunk</text>
<text y="5100">fetal_muscle_lower_limb</text>
<text y="5200">psoas_muscle</text>
<text y="5300">ovary</text>
<text y="5400">pancreas</text>
</g>

<g transform="translate(2106.333 1057) rotate(-90) scale(.333333)" font-size="100" fill="#000">
<text y="0">imr90_fetal_lung_fibroblasts_cell_line_mean</text>
<text y="100">cd14_primary_cells_mean</text>
<text y="200">cd19_mean</text>
<text y="300">fetal_thymus_mean</text>
<text y="400">cd4_primary_cells_mean</text>
<text y="500">cd56_primary_cells_mean</text>
<text y="600">cd3_primary_cells_mean</text>
<text y="700">cd8_primary_cells_mean</text>
<text y="800">fetal_brain_mean</text>
<text y="900">fetal_heart_mean</text>
<text y="1000">fetal_skin_mean</text>
<text y="1100">h1_bmp4_derived_mesendoderm_cultured_cells_mean</text>
<text y="1200">cd34_primary_cells_mean</text>
<text y="1300">placenta_mean</text>
<text y="1400">fibroblast_mean</text>
<text y="1500">fibroblasts_fetal_skin_back_mean</text>
<text y="1600">fetal_testes_mean</text>
<text y="1700">testes_mean</text>
<text y="1800">fetal_ovary_mean</text>
<text y="1900">fetal_renal_cortex_mean</text>
<text y="2000">fetal_renal_pelvis_mean</text>
<text y="2100">h1_bmp4_derived_trophoblast_cultured_cells_mean</text>
<text y="2200">h1_derived_neuronal_progenitor_cultured_cells_mean</text>
<text y="2300">gastric_mucosa_mean</text>
<text y="2400">h1_derived_mesenchymal_stem_cells_mean</text>
<text y="2500">fibroblasts_fetal_skin_scalp_mean</text>
<text y="2600">fibroblasts_fetal_skin_quadriceps_left_mean</text>
<text y="2700">fibroblasts_fetal_skin_biceps_left_mean</text>
<text y="2800">fibroblasts_fetal_skin_biceps_right_mean</text>
<text y="2900">small_bowel_mucosa_mean</text>
<text y="3000">melanocyte_mean</text>
<text y="3100">breast_variant_human_mammary_epithelial_cells_vhmec_mean</text>
<text y="3200">heart_mean</text>
<text y="3300">keratinocyte_mean</text>
<text y="3400">fibroblasts_fetal_skin_upper_back_mean</text>
<text y="3500">fibroblasts_fetal_skin_abdomen_mean</text>
<text y="3600">fibroblasts_fetal_skin_quadriceps_right_mean</text>
<text y="3700">fetal_muscle_mean</text>
<text y="3800">fetal_muscle_arm_mean</text>
<text y="3900">fetal_muscle_back_mean</text>
<text y="4000">fetal_kidney_mean</text>
<text y="4100">fetal_lung_mean</text>
<text y="4200">h1_cells_mean</text>
<text y="4300">h9_cells_mean</text>
<text y="4400">fetal_intestine_large_mean</text>
<text y="4500">fetal_intestine_small_mean</text>
<text y="4600">fetal_adrenal_gland_mean</text>
<text y="4700">fetal_spinal_cord_mean</text>
<text y="4800">fetal_stomach_mean</text>
<text y="4900">fetal_muscle_leg_mean</text>
<text y="5000">fetal_muscle_trunk_mean</text>
<text y="5100">fetal_muscle_lower_limb_mean</text>
<text y="5200">psoas_muscle_mean</text>
<text y="5300">ovary_mean</text>
<text y="5400">pancreas_mean</text>
</g>

<text x="1870" y="2243.3" font-size="33.33" text-anchor="middle" fill="#000">ClusterAssignment</text>
<g stroke="#000" stroke-width="4">
<rect x="1578.33" y="2273.33" width="83.33" height="83.33" fill="#6699ff"/>
<rect x="1661.67" y="2273.33" width="83.33" height="83.33" fill="#ff9933"/>
<rect x="1745" y="2273.33" width="83.33" height="83.33" fill="#ccffcc"/>
<rect x="1828.33" y="2273.33" width="83.33" height="83.33" fill="#ff9999"/>
<rect x="1911.67" y="2273.33" width="83.33" height="83.33" fill="#00ffff"/>
<rect x="1995" y="2273.33" width="83.33" height="83.33" fill="#990099"/>
<rect x="2078.33" y="2273.33" width="83.33" height="83.33" fill="#003399"/>
</g>
<g font-size="30" text-anchor="middle">
<text x="1620" y="2325.9" fill="#000">1.0</text>
<text x="1703.33" y="2325.9" fill="#000">2.0</text>
<text x="1786.67" y="2325.9" fill="#000">3.0</text>
<text x="1870" y="2325.9" fill="#000">4.0</text>
<text x="1953.33" y="2325.9" fill="#000">5.0</text>
<text x="2036.67" y="2325.9" fill="#fff">6.0</text>
<text x="2120" y="2325.9" fill="#fff">7.0</text>
</g>

<text x="1870" y="2493.3" font-size="33.33" text-anchor="middle" fill="#000">Expression</text>
<g stroke="#000" stroke-width="4">
<rect x="1578.33" y="2523.5" width="83.33" height="83.33" fill="#011b82"/>
<rect x="1661.67" y="2523.5" width="83.33" height="83.33" fill="#135c8a"/>
<rect x="1745" y="2523.5" width="83.33" height="83.33" fill="#219b8e"/>
<rect x="1828.33" y="2523.5" width="83.33" height="83.33" fill="#34d991"/>
<rect x="1911.67" y="2523.5" width="83.33" height="83.33" fill="#73d265"/>
<rect x="1995" y="2523.5" width="83.33" height="83.33" fill="#b7ca33"/>
<rect x="2078.33" y="2523.5" width="83.33" height="83.33" fill="#fcc300"/>
</g>
<g font-size="30" text-anchor="middle">
<text x="1620" y="2576.1" fill="#fff">0.0</text>
<text x="1703.33" y="2576.1" fill="#fff">0.2</text>
<text x="1786.67" y="2576.1" fill="#fff">0.3</text>
<text x="1870" y="2576.1" fill="#000">0.5</text>
<text x="1953.33" y="2576.1" fill="#000">0.7</text>
<text x="2036.67" y="2576.1" fill="#000">0.8</text>
<text x="2120" y="2576.1" fill="#000">1.0</text>
</g>
</svg>
</body></html>
